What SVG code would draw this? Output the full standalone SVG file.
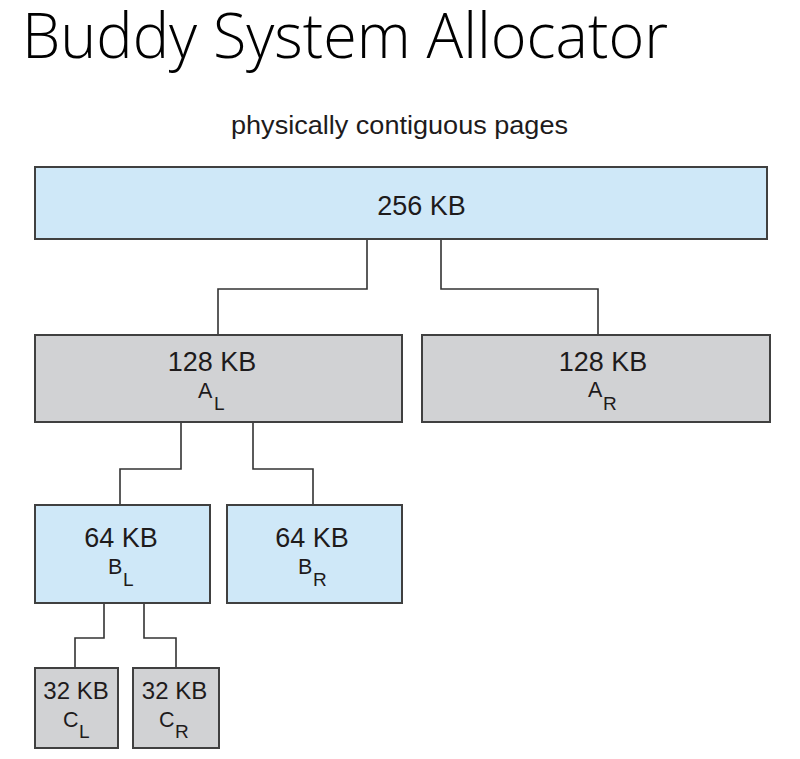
<svg xmlns="http://www.w3.org/2000/svg" width="800" height="759" viewBox="0 0 800 759">
<style>
.bg{fill:#ffffff}
.blue{fill:#cfe8f8;stroke:#404040;stroke-width:2}
.gray{fill:#d1d2d4;stroke:#404040;stroke-width:2}
.conn{fill:none;stroke:#333333;stroke-width:1.6}
.t{font-family:"Liberation Sans",Arial,sans-serif;fill:#1e1b1c}
.lbl{font-size:27px;text-anchor:middle}
.sm{font-size:24px;text-anchor:middle}
.let{font-size:21.5px}
.sub{font-size:19px}
.title{font-family:"Open Sans","Noto Sans",sans-serif;font-weight:300;font-size:63px;fill:#000000}
</style>
<rect class="bg" x="0" y="0" width="800" height="759"/>
<text class="title" x="22" y="58" textLength="646" lengthAdjust="spacingAndGlyphs">Buddy System Allocator</text>
<text class="t" x="231" y="134" font-size="26.5" textLength="337" lengthAdjust="spacingAndGlyphs">physically contiguous pages</text>

<g id="connectors">
<path class="conn" d="M367,239 V289 H218 V335"/>
<path class="conn" d="M441,239 V289 H598 V335"/>
<path class="conn" d="M181,422 V469 H120 V505"/>
<path class="conn" d="M253,422 V469 H313 V505"/>
<path class="conn" d="M104,603 V638 H75 V668"/>
<path class="conn" d="M144,603 V638 H176 V668"/>
</g>

<g id="n256">
<rect class="blue" x="35" y="167" width="732" height="72"/>
<text class="t lbl" x="421.5" y="215">256 KB</text>
</g>

<g id="nAL">
<rect class="gray" x="35" y="335" width="367" height="87"/>
<text class="t lbl" x="212" y="371">128 KB</text>
<text class="t"><tspan class="let" x="198" y="398">A</tspan><tspan class="sub" x="214" y="410">L</tspan></text>
</g>

<g id="nAR">
<rect class="gray" x="422" y="335" width="348" height="87"/>
<text class="t lbl" x="603" y="371">128 KB</text>
<text class="t"><tspan class="let" x="588" y="397">A</tspan><tspan class="sub" x="603" y="410">R</tspan></text>
</g>

<g id="nBL">
<rect class="blue" x="35" y="505" width="175" height="98"/>
<text class="t lbl" x="121" y="547">64 KB</text>
<text class="t"><tspan class="let" x="108" y="574">B</tspan><tspan class="sub" x="123" y="586">L</tspan></text>
</g>

<g id="nBR">
<rect class="blue" x="227" y="505" width="175" height="98"/>
<text class="t lbl" x="312" y="547">64 KB</text>
<text class="t"><tspan class="let" x="298" y="574">B</tspan><tspan class="sub" x="313" y="586">R</tspan></text>
</g>

<g id="nCL">
<rect class="gray" x="35" y="668" width="83" height="80"/>
<text class="t sm" x="76" y="699">32 KB</text>
<text class="t"><tspan class="let" x="63" y="727">C</tspan><tspan class="sub" x="79" y="738">L</tspan></text>
</g>

<g id="nCR">
<rect class="gray" x="133" y="668" width="86" height="80"/>
<text class="t sm" x="174.5" y="699">32 KB</text>
<text class="t"><tspan class="let" x="159" y="727">C</tspan><tspan class="sub" x="175" y="738">R</tspan></text>
</g>
</svg>
